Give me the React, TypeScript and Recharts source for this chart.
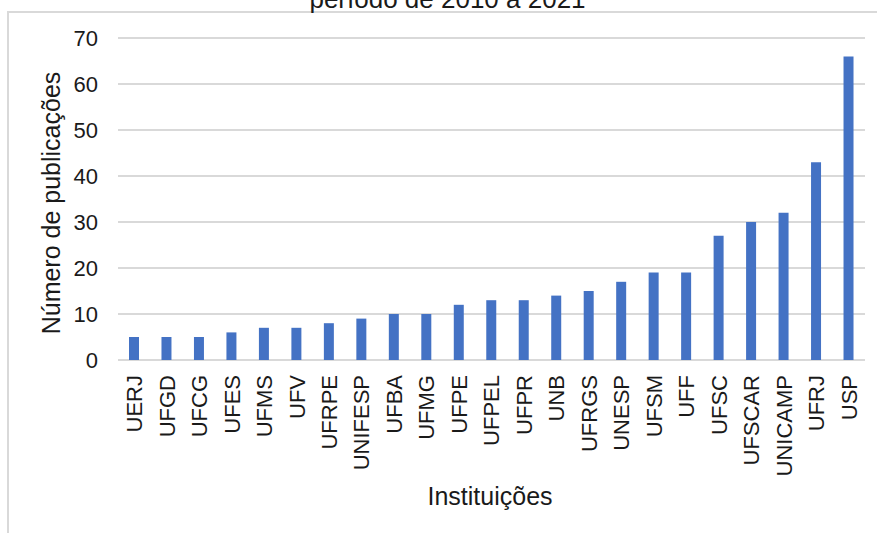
import React from 'react';
import { BarChart, Bar, XAxis, YAxis, CartesianGrid } from 'recharts';

const institutions = ['UERJ', 'UFGD', 'UFCG', 'UFES', 'UFMS', 'UFV', 'UFRPE', 'UNIFESP', 'UFBA', 'UFMG', 'UFPE', 'UFPEL', 'UFPR', 'UNB', 'UFRGS', 'UNESP', 'UFSM', 'UFF', 'UFSC', 'UFSCAR', 'UNICAMP', 'UFRJ', 'USP'];
const publications = [5, 5, 5, 6, 7, 7, 8, 9, 10, 10, 12, 13, 13, 14, 15, 17, 19, 19, 27, 30, 32, 43, 66];
const yTicks = [0, 10, 20, 30, 40, 50, 60, 70];

const titleText = 'período de 2010 a 2021';
const yTitle = 'Número de publicações';
const xTitle = 'Instituições';

const data = institutions.map((name, i) => ({ name, value: publications[i] }));

const FONT = '"Liberation Sans", Arial, Helvetica, sans-serif';
const TEXT = '#1a1a1a';

const XTick = (props: any) => {
  const { x, y, payload } = props;
  return (
    <text
      x={x}
      y={y}
      dy="0.36em"
      transform={`rotate(-90, ${x}, ${y})`}
      textAnchor="end"
      fontSize={22}
      fontFamily={FONT}
      fill={TEXT}
    >
      {payload.value}
    </text>
  );
};

export default function App() {
  return (
    <div style={{ position: 'absolute', left: 0, top: 0, width: 877, height: 533, overflow: 'hidden', background: '#fff' }}>
      <div style={{ position: 'absolute', left: 7, top: 11, width: 950, height: 650, border: '2px solid #d9d9d9', boxSizing: 'border-box' }} />
      <div style={{ position: 'absolute', left: 0, top: 0 }}>
        <BarChart width={877} height={533} data={data} margin={{ top: 38, right: 12, bottom: 0, left: 0 }}>
          <CartesianGrid vertical={false} stroke="#d9d9d9" strokeWidth={2} />
          <XAxis
            dataKey="name"
            interval={0}
            height={173}
            tickSize={0}
            tickMargin={15}
            axisLine={false}
            tickLine={false}
            tick={<XTick />}
          />
          <YAxis
            width={118}
            domain={[0, 70]}
            ticks={yTicks}
            tickSize={0}
            tickMargin={20}
            axisLine={false}
            tickLine={false}
            tick={{ fontSize: 22, fontFamily: FONT, fill: TEXT }}
          />
          <Bar dataKey="value" fill="#4472C4" barSize={10} isAnimationActive={false} />
        </BarChart>
      </div>
      <svg width={877} height={533} style={{ position: 'absolute', left: 0, top: 0, pointerEvents: 'none' }}>
        <text x={447.5} y={8} textAnchor="middle" fontSize={26} fontFamily={FONT} fill={TEXT}>{titleText}</text>
        <text x={60} y={203} transform="rotate(-90, 60, 203)" textAnchor="middle" fontSize={25} fontFamily={FONT} fill={TEXT}>{yTitle}</text>
        <text x={490} y={505} textAnchor="middle" fontSize={25} fontFamily={FONT} fill={TEXT}>{xTitle}</text>
      </svg>
    </div>
  );
}
